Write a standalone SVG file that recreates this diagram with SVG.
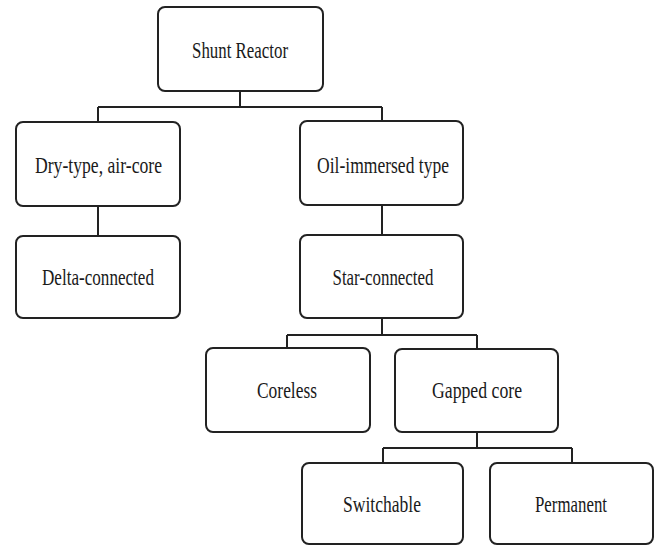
<svg xmlns="http://www.w3.org/2000/svg" width="660" height="546" viewBox="0 0 660 546">
<style>
.box{fill:#fff;stroke:#222;stroke-width:2}
.lbl{font-family:"Liberation Serif","DejaVu Serif",serif;font-size:24px;fill:#1a1a1a;text-anchor:middle}
.conn{fill:none;stroke:#222;stroke-width:2}
</style>
<rect width="660" height="546" fill="#fff"/>
<g id="connectors" class="conn">
<path d="M240 91V107M98 107H382M98 107V122M382 107V121"/>
<path d="M98 206V236"/>
<path d="M382 205V235"/>
<path d="M382 318V335M287 335H477M287 335V348M477 335V349"/>
<path d="M477 432V448M383 448H572M383 448V463M572 448V463"/>
</g>
<g id="shunt-reactor"><rect class="box" x="158" y="7" width="165" height="84" rx="7"/><text class="lbl" x="240" y="58" textLength="96" lengthAdjust="spacingAndGlyphs">Shunt Reactor</text></g>
<g id="dry-type"><rect class="box" x="16" y="122" width="164" height="84" rx="7"/><text class="lbl" x="98.5" y="173" textLength="127" lengthAdjust="spacingAndGlyphs">Dry-type, air-core</text></g>
<g id="delta-connected"><rect class="box" x="16" y="236" width="164" height="82" rx="7"/><text class="lbl" x="98" y="285" textLength="112" lengthAdjust="spacingAndGlyphs">Delta-connected</text></g>
<g id="oil-immersed"><rect class="box" x="300" y="121" width="163" height="84" rx="7"/><text class="lbl" x="383" y="173" textLength="132" lengthAdjust="spacingAndGlyphs">Oil-immersed type</text></g>
<g id="star-connected"><rect class="box" x="300" y="235" width="163" height="83" rx="7"/><text class="lbl" x="383" y="285" textLength="101" lengthAdjust="spacingAndGlyphs">Star-connected</text></g>
<g id="coreless"><rect class="box" x="206" y="348" width="164" height="84" rx="7"/><text class="lbl" x="287" y="398" textLength="60" lengthAdjust="spacingAndGlyphs">Coreless</text></g>
<g id="gapped-core"><rect class="box" x="395" y="349" width="163" height="83" rx="7"/><text class="lbl" x="477" y="398" textLength="90" lengthAdjust="spacingAndGlyphs">Gapped core</text></g>
<g id="switchable"><rect class="box" x="302" y="463" width="161" height="81" rx="7"/><text class="lbl" x="382" y="512" textLength="78" lengthAdjust="spacingAndGlyphs">Switchable</text></g>
<g id="permanent"><rect class="box" x="490" y="463" width="163" height="81" rx="7"/><text class="lbl" x="571" y="512" textLength="72" lengthAdjust="spacingAndGlyphs">Permanent</text></g>
</svg>
